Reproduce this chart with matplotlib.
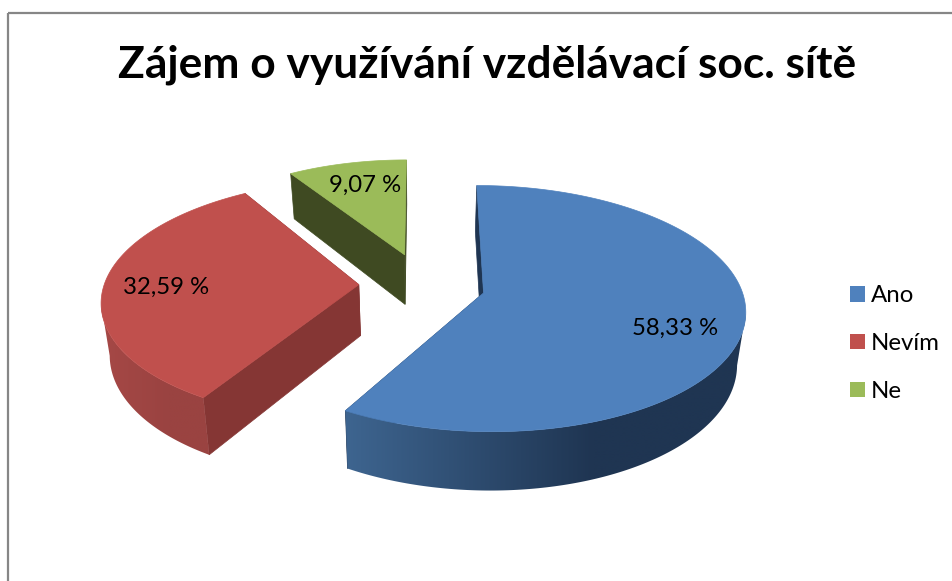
import numpy as np
import matplotlib
matplotlib.use("Agg")
import matplotlib.pyplot as plt
from matplotlib.patches import Polygon, Patch, Rectangle
from matplotlib.colors import to_rgb

plt.rcParams['font.family'] = ['Lato', 'Open Sans', 'DejaVu Sans']

categories = ['Ano', 'Nevím', 'Ne']
shares = [58.33, 32.59, 9.07]
share_labels = ['58,33 %', '32,59 %', '9,07 %']
title = 'Zájem o využívání vzdělávací soc. sítě'

top_colors = ['#4F81BD', '#C0504D', '#9BBB59']
wall_colors = ['#1F3552', '#853634', '#3F4A22']
side_left = ['#3E6590', '#A64846', '#5D6E34']
side_right = ['#1F3552', '#9A4341', '#3F4A22']
label_pos = [(675, 328), (166, 287), (365, 185)]
radius_scale = [1.0, 0.99, 0.94]
nudge_x = [2.0, -1.0, 0.0]
nudge_y = [0.5, -1.0, -3.5]
turn_deg = [0.0, 1.3, 0.0]

CX, CY, A, B, K, DEPTH, EXPLODE, SHRINK = 421.5, 285.0, 257.0, 119.2, 0.126, 51.0, 0.24, 0.027

fig = plt.figure(figsize=(9.53, 5.81), dpi=100)
ax = fig.add_axes([0, 0, 1, 1])


def project(u, v, z=0.0):
    s = 1.0 / (1.0 + K * v)
    return CX + A * u * s * (1 - SHRINK * z), CY - B * v * s + z * DEPTH * s


ax.add_patch(Rectangle((8, 13), 1200, 900, fill=False, ec='#868686', lw=1.6, zorder=0))

fractions = np.array(shares) / sum(shares)
edges = np.concatenate([[0], np.cumsum(fractions)]) * 2 * np.pi

for idx in [2, 1, 0]:
    t0, t1 = edges[idx], edges[idx + 1]
    mid = (t0 + t1) / 2
    ou, ov = EXPLODE * np.sin(mid), EXPLODE * np.cos(mid)
    th = np.linspace(t0, t1, 240) + np.radians(turn_deg[idx])
    r = radius_scale[idx]
    u, v = ou + r * np.sin(th), ov + r * np.cos(th)
    nx, ny = nudge_x[idx], nudge_y[idx]
    ax0, ay0 = project(ou, ov)
    bx0, by0 = project(ou, ov, 1)
    ax0, bx0, ay0, by0 = ax0 + nx, bx0 + nx, ay0 + ny, by0 + ny
    tx, ty = project(u, v)
    bx, by = project(u, v, 1)
    tx, bx, ty, by = tx + nx, bx + nx, ty + ny, by + ny
    base = idx * -3 + 10
    for end in [0, -1]:
        pts = [(ax0, ay0), (tx[end], ty[end]), (bx[end], by[end]), (bx0, by0)]
        ax.add_patch(Polygon(pts, closed=True, fc=wall_colors[idx], ec=wall_colors[idx],
                             lw=0.5, zorder=base))
    near = np.cos(th) < 0.5
    if near.sum() > 1:
        # outer side runs between the silhouette points of the top and bottom rims
        tnx, tny, bnx, bny = tx[near], ty[near], bx[near], by[near]
        top_a, bot_a = int(np.argmax(tnx)), int(np.argmax(bnx))
        top_b, bot_b = int(np.argmin(tnx)), int(np.argmin(bnx))
        fx, fy = tnx[top_a:top_b + 1], tny[top_a:top_b + 1]
        gx, gy = bnx[bot_a:bot_b + 1], bny[bot_a:bot_b + 1]
        x0, x1 = min(fx.min(), gx.min()), max(fx.max(), gx.max())
        xs = np.linspace(0, 1, 400)
        ramp = np.clip(xs / 0.62, 0, 1)[:, None]
        c0, c1 = np.array(to_rgb(side_left[idx])), np.array(to_rgb(side_right[idx]))
        img = (c0 + (c1 - c0) * ramp)[None, :, :]
        strip = Polygon(np.vstack([np.column_stack([fx, fy]),
                                   np.column_stack([gx, gy])[::-1]]),
                        closed=True, transform=ax.transData, fc='none', ec='none')
        ax.add_patch(strip)
        im = ax.imshow(img, extent=(x0, x1, max(gy.max(), fy.max()), min(fy.min(), gy.min())),
                       aspect='auto', zorder=base + 0.5, interpolation='bilinear')
        im.set_clip_path(strip)
    top = np.vstack([[ax0, ay0], np.column_stack([tx, ty])])
    ax.add_patch(Polygon(top, closed=True, fc=top_colors[idx], ec=top_colors[idx], lw=0.5,
                         zorder=base + 1))
    ax.text(label_pos[idx][0], label_pos[idx][1], share_labels[idx], ha='center', va='center',
            fontsize=17.2, color='black', zorder=30)

ax.set_xlim(0, 953)
ax.set_ylim(581, 0)
ax.axis('off')

ax.text(487, 65, title, ha='center', va='center', fontsize=31.9, fontweight='bold', color='black')

handles = [Patch(fc=c, ec=c, lw=0) for c in top_colors]
ax.legend(handles, categories, loc='upper left', bbox_to_anchor=(843 / 953, 1 - 278 / 581),
          frameon=False, fontsize=17.3, handlelength=0.625, handleheight=0.625, handletextpad=0.22,
          labelspacing=1.12, borderpad=0.3, borderaxespad=0, labelcolor='black')

fig.savefig('out.png', dpi=100)
